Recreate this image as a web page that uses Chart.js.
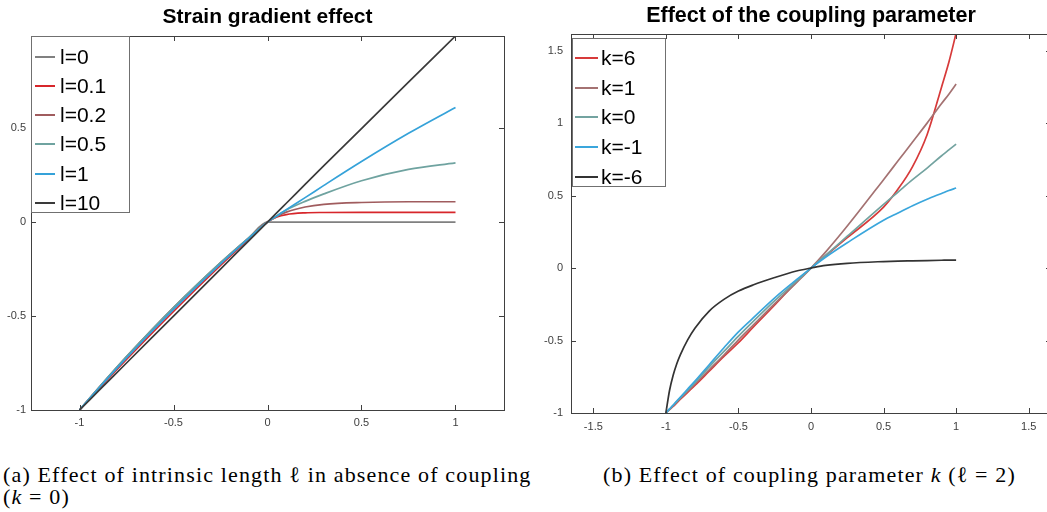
<!DOCTYPE html>
<html>
<head>
<meta charset="utf-8">
<script src="https://cdn.jsdelivr.net/npm/chart.js@4.4.0/dist/chart.umd.min.js"></script>
<style>
html, body { margin: 0; padding: 0; background: #fff; }
body { width: 1047px; height: 512px; overflow: hidden; position: relative; font-family: "Liberation Sans", Arial, sans-serif; }
canvas { position: absolute; top: 0; }
#chartA { left: 0; }
#chartB { left: 532px; }
.legend { position: absolute; background: #fff; border: 1px solid #707070; box-sizing: border-box; font-size: 21px; color: #000; }
.legend .row { position: absolute; white-space: nowrap; line-height: 24px; }
.legend .swatch { position: absolute; height: 2px; }
.caption { position: absolute; font-family: "Liberation Serif", "DejaVu Serif", serif; font-size: 22px; letter-spacing: 1.15px; color: #000; white-space: nowrap; line-height: 22px; }
</style>
</head>
<body>
<canvas id="chartA" width="520" height="440"></canvas>
<canvas id="chartB" width="520" height="440"></canvas>
<div id="legendA" class="legend" style="left:31px; top:36px; width:99px; height:177px;"></div>
<div id="legendB" class="legend" style="left:572px; top:38px; width:94px; height:149px;"></div>
<div class="caption" style="left:3px; top:464px;">(a) Effect of intrinsic length &#8467; in absence of coupling</div>
<div class="caption" style="left:3px; top:486px;">(<i>k</i> = 0)</div>
<div class="caption" style="left:603px; top:464px;">(b) Effect of coupling parameter <i>k</i> (&#8467; = 2)</div>
<script>
/* ================= DATA : (a) strain gradient ================= */
var xA = [-1, -0.9, -0.75, -0.5, -0.25, -0.1, 0, 0.05, 0.1, 0.2, 0.3, 0.5, 0.75, 1];
var yL0   = [-1, -0.884, -0.716, -0.455, -0.216, -0.084, 0, 0, 0, 0, 0, 0, 0, 0];
var yL01  = [-1, -0.891, -0.731, -0.475, -0.231, -0.091, 0, 0.027, 0.04, 0.049, 0.051, 0.052, 0.052, 0.052];
var yL02  = [-1, -0.885, -0.718, -0.457, -0.218, -0.085, 0, 0.03, 0.053, 0.08, 0.094, 0.104, 0.108, 0.108];
var yL05  = [-1, -0.884, -0.716, -0.455, -0.216, -0.084, 0, 0.034, 0.064, 0.11, 0.15, 0.22, 0.28, 0.315];
var yL1   = [-1, -0.887, -0.723, -0.465, -0.223, -0.087, 0, 0.033, 0.066, 0.13, 0.195, 0.322, 0.472, 0.61];
var yL10  = [-1, -0.9, -0.75, -0.5, -0.25, -0.1, 0, 0.05, 0.1, 0.2, 0.3, 0.497, 0.745, 0.99];
var labelsA = ["l=0", "l=0.1", "l=0.2", "l=0.5", "l=1", "l=10"];
var colorsA = ["#808080", "#d7262b", "#a05c5e", "#6fa3a0", "#35a2d9", "#3a3a3a"];
var xTicksA = [-1, -0.5, 0, 0.5, 1];
var yTicksA = [-1, -0.5, 0, 0.5];

/* ================= DATA : (b) coupling parameter ================= */
var xB = [-1, -0.975, -0.95, -0.925, -0.9, -0.85, -0.8, -0.7, -0.6, -0.5, -0.4, -0.25, -0.1, 0, 0.1, 0.25, 0.5, 0.6, 0.7, 0.8, 0.9, 0.95, 1];
var yK6  = [-1, -0.977, -0.955, -0.93, -0.905, -0.857, -0.81, -0.71, -0.61, -0.515, -0.41, -0.255, -0.095, 0, 0.085, 0.21, 0.42, 0.545, 0.7, 0.92, 1.25, 1.42, 1.62];
var yK1  = [-1, -0.975, -0.95, -0.925, -0.9, -0.85, -0.8, -0.7, -0.6, -0.495, -0.395, -0.245, -0.1, 0, 0.11, 0.29, 0.61, 0.74, 0.87, 1.0, 1.135, 1.2, 1.27];
var yK0  = [-1, -0.974, -0.948, -0.921, -0.895, -0.843, -0.79, -0.68, -0.575, -0.47, -0.37, -0.225, -0.09, 0, 0.088, 0.22, 0.44, 0.525, 0.61, 0.69, 0.775, 0.815, 0.855];
var yKm1 = [-1, -0.972, -0.945, -0.917, -0.89, -0.835, -0.78, -0.665, -0.55, -0.44, -0.345, -0.205, -0.08, 0, 0.075, 0.175, 0.33, 0.38, 0.43, 0.475, 0.515, 0.535, 0.552];
var yKm6 = [-1, -0.845, -0.74, -0.66, -0.597, -0.495, -0.415, -0.295, -0.216, -0.159, -0.117, -0.065, -0.02, 0, 0.018, 0.033, 0.045, 0.048, 0.05, 0.052, 0.054, 0.055, 0.055];
var labelsB = ["k=6", "k=1", "k=0", "k=-1", "k=-6"];
var colorsB = ["#d73a3a", "#a47272", "#73a3a0", "#3aa6dc", "#333333"];
var xTicksB = [-1.5, -1, -0.5, 0, 0.5, 1, 1.5];
var yTicksB = [-1, -0.5, 0, 0.5, 1, 1.5];

var TICK_LEN = 5;
var AXIS_COLOR = "#404040";
var charts = {};

/* ================= INIT ================= */
document.addEventListener("DOMContentLoaded", function () {
    buildChartA();
    buildChartB();
    buildLegend("legendA", labelsA, colorsA, { first: 19.7, step: 29.2, swLeft: 3, swWidth: 20, textLeft: 28 });
    buildLegend("legendB", labelsB, colorsB, { first: 18.7, step: 29.8, swLeft: 2, swWidth: 23, textLeft: 28 });
});

/* ================= HELPERS ================= */
function toPoints(xs, ys) {
    return xs.map(function (x, i) { return { x: x, y: ys[i] }; });
}

function makeDatasets(xs, series, labels, colors) {
    return series.map(function (ys, i) {
        return {
            label: labels[i],
            data: toPoints(xs, ys),
            borderColor: colors[i],
            borderWidth: 1.7,
            pointRadius: 0,
            fill: false,
            cubicInterpolationMode: "monotone",
            order: series.length - i
        };
    });
}

function fixedTicks(values) {
    return function (scale) {
        scale.ticks = values.map(function (v) { return { value: v }; });
    };
}

function axisOptions(min, max, ticks, size, pad, isX) {
    return {
        type: "linear",
        min: min,
        max: max,
        grid: { display: false, drawTicks: false },
        border: { display: false },
        afterBuildTicks: fixedTicks(ticks),
        afterFit: function (scale) {
            if (isX) scale.height = size; else scale.width = size;
        },
        ticks: {
            padding: pad,
            color: AXIS_COLOR,
            font: { family: "'Liberation Sans', Arial, sans-serif", size: 11 },
            callback: function (v) { return String(v); }
        }
    };
}

/* box + inward ticks, matlab style */
var boxPlugin = {
    id: "matlabBox",
    afterDatasetsDraw: function (chart) {
        var ctx = chart.ctx;
        var a = chart.chartArea;
        var xs = chart.scales.x;
        var ys = chart.scales.y;
        ctx.save();
        ctx.strokeStyle = AXIS_COLOR;
        ctx.lineWidth = 1;
        ctx.beginPath();
        xs.ticks.forEach(function (t) {
            var px = Math.round(xs.getPixelForValue(t.value)) + 0.5;
            ctx.moveTo(px, a.bottom);
            ctx.lineTo(px, a.bottom - TICK_LEN);
            ctx.moveTo(px, a.top);
            ctx.lineTo(px, a.top + TICK_LEN);
        });
        ys.ticks.forEach(function (t) {
            var py = Math.round(ys.getPixelForValue(t.value)) + 0.5;
            ctx.moveTo(a.left, py);
            ctx.lineTo(a.left + TICK_LEN, py);
            ctx.moveTo(a.right, py);
            ctx.lineTo(a.right - TICK_LEN, py);
        });
        ctx.stroke();
        ctx.strokeRect(Math.round(a.left) + 0.5, Math.round(a.top) + 0.5,
            Math.round(a.right - a.left), Math.round(a.bottom - a.top));
        ctx.restore();
    }
};

function renderChart(id, config) {
    var canvas = document.getElementById(id);
    if (!canvas) return;
    if (charts[id]) charts[id].destroy();
    charts[id] = new Chart(canvas.getContext("2d"), config);
}

function baseOptions(title, fontSize, padTop, padBottom, rightPad) {
    return {
        responsive: false,
        animation: false,
        layout: { padding: { left: 0, right: rightPad, top: 0, bottom: 0 } },
        plugins: {
            legend: { display: false },
            tooltip: { enabled: false },
            title: {
                display: true,
                text: title,
                fullSize: false,
                color: "#000",
                font: { family: "'Liberation Sans', Arial, sans-serif", size: fontSize, weight: "bold", lineHeight: 1.2 },
                padding: { top: padTop, bottom: padBottom }
            }
        }
    };
}

/* ================= CHART A ================= */
function buildChartA() {
    var opts = baseOptions("Strain gradient effect", 21, 5, 5.8, 16);
    opts.scales = {
        x: axisOptions(-1.258, 1.258, xTicksA, 30, 6, true),
        y: axisOptions(-1, 0.99, yTicksA, 31, 5, false)
    };
    renderChart("chartA", {
        type: "line",
        data: { datasets: makeDatasets(xA, [yL0, yL01, yL02, yL05, yL1, yL10], labelsA, colorsA) },
        options: opts,
        plugins: [boxPlugin]
    });
}

/* ================= CHART B ================= */
function buildChartB() {
    var opts = baseOptions("Effect of the coupling parameter", 21.5, 3.5, 4.7, 1);
    opts.scales = {
        x: axisOptions(-1.654, 1.654, xTicksB, 27, 7, true),
        y: axisOptions(-1, 1.615, yTicksB, 39, 8, false)
    };
    renderChart("chartB", {
        type: "line",
        data: { datasets: makeDatasets(xB, [yK6, yK1, yK0, yKm1, yKm6], labelsB, colorsB) },
        options: opts,
        plugins: [boxPlugin]
    });
}

/* ================= LEGEND ================= */
function buildLegend(id, labels, colors, geo) {
    var box = document.getElementById(id);
    if (!box) return;
    labels.forEach(function (label, i) {
        var cy = geo.first + geo.step * i;
        var sw = document.createElement("div");
        sw.className = "swatch";
        sw.style.left = geo.swLeft + "px";
        sw.style.width = geo.swWidth + "px";
        sw.style.top = (cy - 1) + "px";
        sw.style.background = colors[i];
        box.appendChild(sw);
        var row = document.createElement("div");
        row.className = "row";
        row.style.left = geo.textLeft + "px";
        row.style.top = (cy - 12) + "px";
        row.textContent = label;
        box.appendChild(row);
    });
}
</script>
</body>
</html>
